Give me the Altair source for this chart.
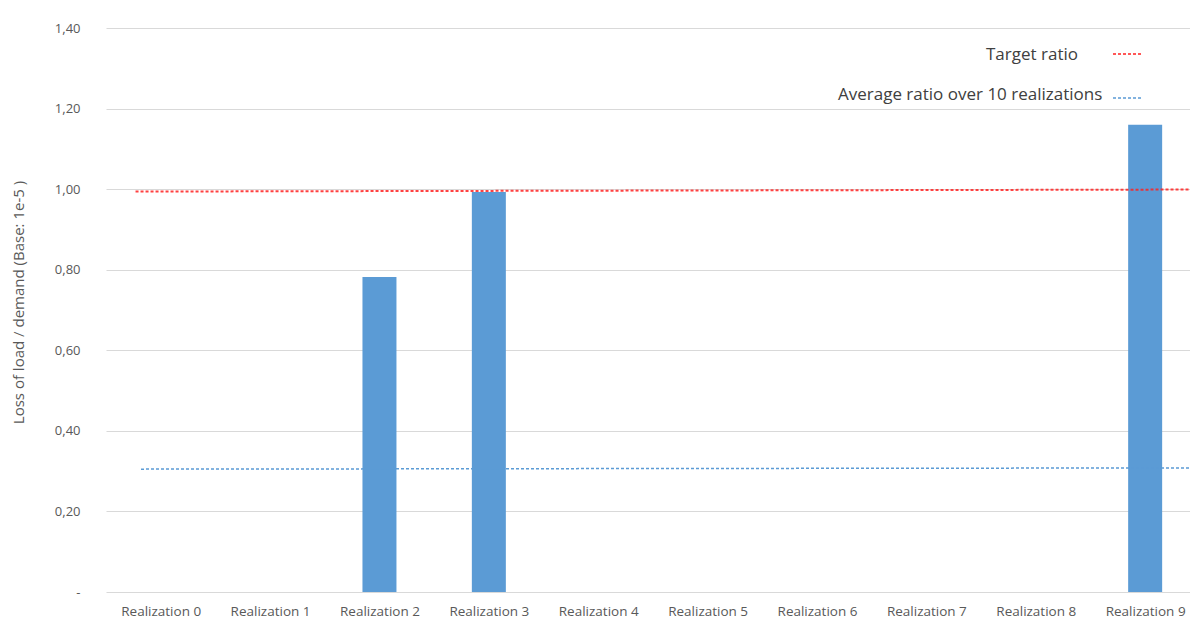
import altair as alt
import pandas as pd

# Loss-of-load ratio per realization (base 1e-5)
realization_idx = [0, 1, 2, 3, 4, 5, 6, 7, 8, 9]
loss_ratio = [0.0, 0.0, 0.782, 0.993, 0.0, 0.0, 0.0, 0.0, 0.0, 1.160]

# Reference lines (start / end points along the category axis)
target_x = [-0.23, 9.41]
target_y = [0.994, 0.999]
average_x = [-0.18, 9.41]
average_y = [0.305, 0.308]

legend_labels = ["Target ratio", "Average ratio over 10 realizations"]
y_ticks = [0.0, 0.2, 0.4, 0.6, 0.8, 1.0, 1.2, 1.4]

FONT = "Open Sans"
GREY = "#595959"
BAR = "#5b9bd5"
RED = "#ff2020"

bars_df = pd.DataFrame({"idx": realization_idx, "ratio": loss_ratio})
target_df = pd.DataFrame({"x": target_x, "y": target_y})
average_df = pd.DataFrame({"x": average_x, "y": average_y})
legend_target = pd.DataFrame({"label": [legend_labels[0]]})
legend_average = pd.DataFrame({"label": [legend_labels[1]]})

x_scale = alt.Scale(domain=[-0.5, 9.41], nice=False, zero=False, padding=0)
y_scale = alt.Scale(domain=[0, 1.4], nice=False, padding=0)

bars = alt.Chart(bars_df).mark_bar(size=34, color=BAR).encode(
    x=alt.X(
        "idx:Q",
        scale=x_scale,
        axis=alt.Axis(
            title=None,
            values=realization_idx,
            labelExpr="'Realization ' + datum.value",
            grid=False,
            ticks=False,
            domain=False,
            labelPadding=12,
            labelFont=FONT,
            labelFontSize=13.5,
            labelColor=GREY,
        ),
    ),
    y=alt.Y(
        "ratio:Q",
        scale=y_scale,
        axis=alt.Axis(
            title="Loss of load / demand (Base: 1e-5 )",
            values=y_ticks,
            labelExpr="datum.value == 0 ? '-' : replace(format(datum.value, '.2f'), '.', ',')",
            grid=True,
            gridColor="#d9d9d9",
            gridWidth=1,
            ticks=False,
            domain=False,
            labelPadding=26,
            labelFont=FONT,
            labelFontSize=13,
            labelColor=GREY,
            titleFont=FONT,
            titleFontSize=15,
            titleFontWeight="normal",
            titleColor=GREY,
            titleX=-88,
            titleY=274,
            titleBaseline="middle",
        ),
    ),
)

target_line = alt.Chart(target_df).mark_line(
    color=RED, strokeWidth=2, strokeDash=[3, 2], opacity=0.85
).encode(x=alt.X("x:Q", scale=x_scale), y=alt.Y("y:Q", scale=y_scale))

average_line = alt.Chart(average_df).mark_line(
    color=BAR, strokeWidth=1.5, strokeDash=[3, 2]
).encode(x=alt.X("x:Q", scale=x_scale), y=alt.Y("y:Q", scale=y_scale))

# Legend drawn manually: text followed by a short dashed sample
legend_text_style = dict(font=FONT, fontSize=17, color="#404040", align="left", baseline="middle")

target_text = alt.Chart(legend_target).mark_text(**legend_text_style).encode(
    x=alt.value(880), y=alt.value(27), text="label:N"
)
average_text = alt.Chart(legend_average).mark_text(**legend_text_style).encode(
    x=alt.value(732), y=alt.value(67), text="label:N"
)
target_sample = alt.Chart(legend_target).mark_rule(
    color=RED, strokeWidth=1.5, strokeDash=[3, 2]
).encode(x=alt.value(1007), x2=alt.value(1036), y=alt.value(26))
average_sample = alt.Chart(legend_average).mark_rule(
    color=BAR, strokeWidth=1.5, strokeDash=[3, 2]
).encode(x=alt.value(1007), x2=alt.value(1036), y=alt.value(70))

chart = (
    alt.layer(bars, target_line, average_line, target_text, average_text, target_sample, average_sample)
    .properties(
        width=1084,
        height=564,
        autosize=alt.AutoSizeParams(type="none"),
        padding={"left": 106, "top": 28, "right": 0, "bottom": 27},
        background="white",
    )
    .configure_view(stroke=None)
)

chart.save("out.html", embed_options={"renderer": "svg", "actions": False})
